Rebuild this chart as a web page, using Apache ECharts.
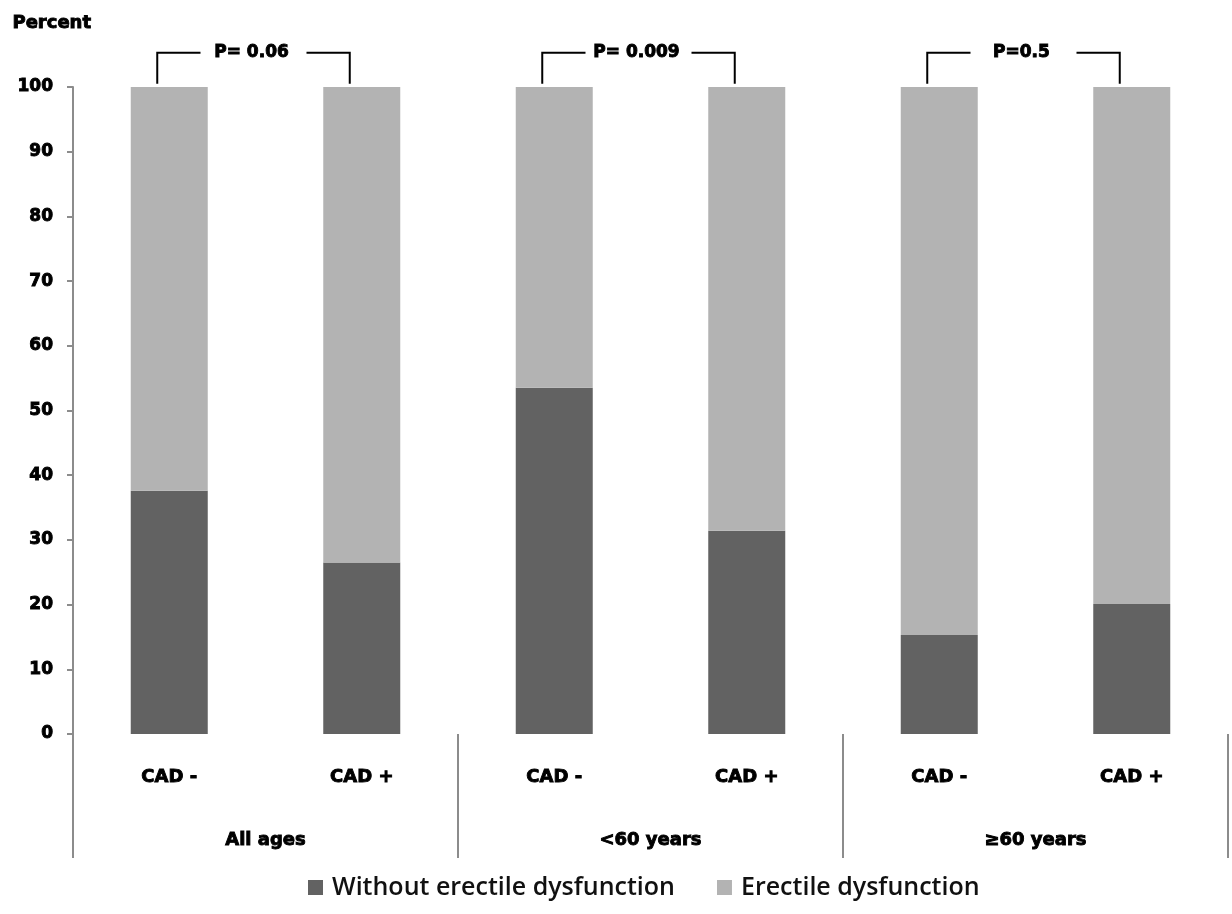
<!DOCTYPE html>
<html>
<head>
<meta charset="utf-8">
<script src="https://cdn.jsdelivr.net/npm/echarts@6/dist/echarts.min.js"></script>
<style>
html,body{margin:0;padding:0;background:#fff;}
#chart{width:1232px;height:914px;}
</style>
</head>
<body>
<div id="chart"></div>
<script>
// ---- data ----
const categories = ["CAD -", "CAD +", "CAD -", "CAD +", "CAD -", "CAD +"];
const groups = ["All ages", "<60 years", "\u226560 years"];
const withoutED = [37.6, 26.5, 53.5, 31.4, 15.3, 20.1];
const withED = [62.4, 73.5, 46.5, 68.6, 84.7, 79.9];
const yTicks = [0, 10, 20, 30, 40, 50, 60, 70, 80, 90, 100];
const seriesNames = ["Without erectile dysfunction", "Erectile dysfunction"];
const pairs = [[0, 1], [2, 3], [4, 5]];
const pLabels = ["P= 0.06", "P= 0.009", "P=0.5"];

const boldFont = "DejaVu Sans";
const heavy = { color: '#000', fontFamily: boldFont, fontWeight: 'bold', textBorderColor: '#000', textBorderWidth: 0.9 };
const chart = echarts.init(document.getElementById('chart'));

const option = {
  animation: false,
  backgroundColor: '#ffffff',
  grid: { left: 73, right: 4, top: 87, bottom: 180, containLabel: false },
  xAxis: [
    {
      type: 'category',
      data: categories,
      axisLine: { show: false },
      axisTick: { show: false },
      axisLabel: Object.assign({ interval: 0, margin: 34, fontSize: 18 }, heavy)
    },
    {
      type: 'category',
      data: groups,
      position: 'bottom',
      axisLine: { show: false },
      axisTick: { show: true, length: 124, lineStyle: { color: '#8c8c8c', width: 2 } },
      axisLabel: Object.assign({ interval: 0, margin: 97, fontSize: 18 }, heavy)
    }
  ],
  yAxis: {
    type: 'value',
    min: yTicks[0],
    max: yTicks[yTicks.length - 1],
    interval: 10,
    axisLine: { show: true, lineStyle: { color: '#8c8c8c', width: 2 } },
    axisTick: { show: true, length: 6, lineStyle: { color: '#8c8c8c', width: 2 } },
    splitLine: { show: false },
    axisLabel: Object.assign({ margin: 20, fontSize: 17 }, heavy)
  },
  legend: {
    bottom: 9,
    left: 303,
    itemGap: 42,
    itemWidth: 15,
    itemHeight: 15,
    icon: 'rect',
    textStyle: { color: '#111', fontFamily: 'Open Sans', fontWeight: 600, fontSize: 25, padding: [0, 0, 0, 4] },
    data: seriesNames
  },
  series: [
    {
      name: seriesNames[0], type: 'bar', stack: 'a', data: withoutED, barWidth: 77,
      itemStyle: { color: '#626262' }
    },
    {
      name: seriesNames[1], type: 'bar', stack: 'a', data: withED, barWidth: 77,
      itemStyle: { color: '#b3b3b3' }
    }
  ],
  graphic: []
};
chart.setOption(option);

// "Percent" axis title and significance brackets, placed via the chart's scales
const yTop = chart.convertToPixel({ yAxisIndex: 0 }, 105.3);
const yBot = chart.convertToPixel({ yAxisIndex: 0 }, 100.5);
const graphics = [{
  type: 'text', left: 12, top: 14,
  style: { text: 'Percent', fill: '#000', stroke: '#000', lineWidth: 0.9, font: 'bold 18px "DejaVu Sans"' }
}];
pairs.forEach((p, i) => {
  const xl = chart.convertToPixel({ xAxisIndex: 0 }, p[0]) - 12;
  const xr = chart.convertToPixel({ xAxisIndex: 0 }, p[1]) - 12;
  const cx = (xl + xr) / 2;
  graphics.push({
    type: 'polyline', shape: { points: [[xl, yBot], [xl, yTop], [cx - 53, yTop]] },
    style: { stroke: '#000', lineWidth: 2, fill: null }
  });
  graphics.push({
    type: 'polyline', shape: { points: [[cx + 53, yTop], [xr, yTop], [xr, yBot]] },
    style: { stroke: '#000', lineWidth: 2, fill: null }
  });
  graphics.push({
    type: 'text', x: cx - 2, y: yTop,
    style: { text: pLabels[i], fill: '#000', stroke: '#000', lineWidth: 0.9, font: 'bold 17px "DejaVu Sans"', align: 'center', verticalAlign: 'middle' }
  });
});
chart.setOption({ graphic: graphics });
</script>
</body>
</html>
